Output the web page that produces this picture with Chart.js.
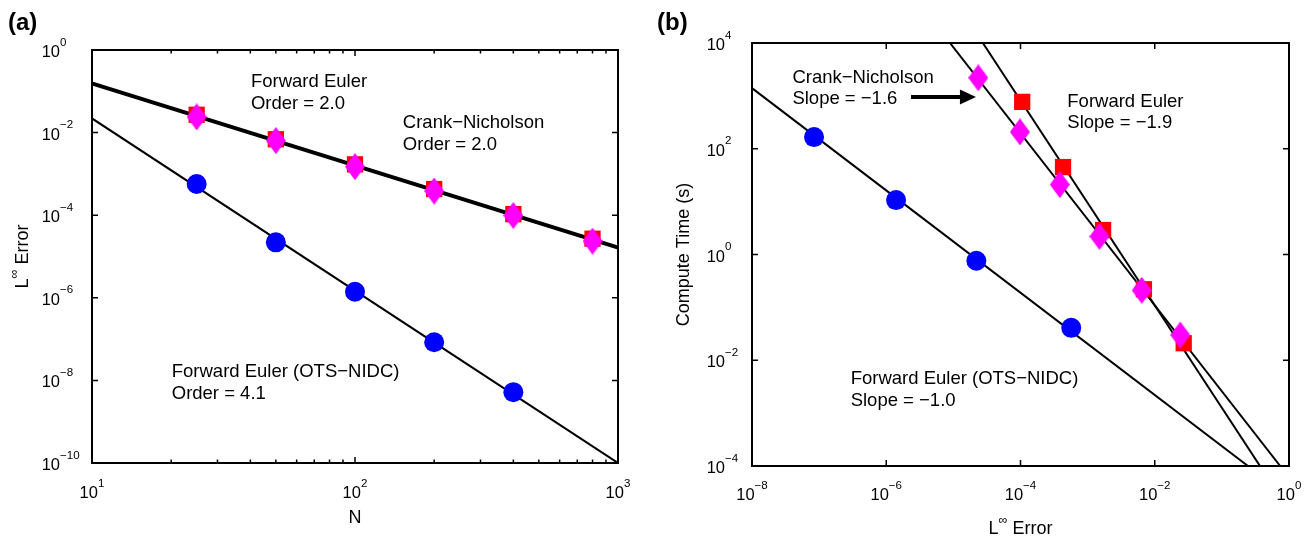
<!DOCTYPE html>
<html lang="en">
<head>
  <meta charset="UTF-8">
  <title>Convergence order and compute time</title>
  <style>
    html, body {
      margin: 0;
      padding: 0;
      background: #ffffff;
    }
    .panel {
      position: absolute;
      top: 0;
      width: 656px;
      height: 538px;
    }
    #panelA { left: 0; }
    #panelB { left: 656px; }
  </style>
</head>
<body>

  <div class="panel" id="panelA"><canvas id="chartA"></canvas></div>
  <div class="panel" id="panelB"><canvas id="chartB"></canvas></div>

  <script src="https://cdn.jsdelivr.net/npm/chart.js"></script>
  <script>
    // ---- (a) error vs N ----
    const nPts = [25, 50, 100, 200, 400, 800];
    const errFE = [0.027, 0.0069, 0.0017, 4.3e-4, 1.06e-4, 2.7e-5];
    const errCN = [0.024, 0.0064, 0.0015, 3.85e-4, 9.8e-5, 2.35e-5];
    const errOTS = [5.7e-4, 2.2e-5, 1.4e-6, 8.4e-8, 5.2e-9];   // N = 25..400

    // fitted lines, end points
    const fitN = [10, 1000];
    const fitFE_a = [0.162, 1.72e-5];
    const fitCN_a = [0.148, 1.57e-5];
    const fitOTS_a = [0.022, 1e-10];

    // ---- (b) compute time vs error ----
    const timeFE = [0.021, 0.22, 2.9, 45, 770];          // N = 25..400
    const timeCN = [0.030, 0.21, 2.2, 21, 208, 2200];    // N = 25..800
    const timeOTS = [0.041, 0.76, 10.7, 166];            // N = 25..200

    const fitErrOTS_b = [1e-8, 0.245];
    const fitTimeOTS_b = [1400, 1e-4];
    const fitErrFE_b = [2.75e-5, 0.37];
    const fitTimeFE_b = [1e4, 1e-4];
    const fitErrCN_b = [8.9e-6, 0.74];
    const fitTimeCN_b = [1e4, 1e-4];

    // tick exponents / minor tick values
    const xTicksA = [1, 2, 3];
    const yTicksA = [0, -2, -4, -6, -8, -10];
    const xMinorA = [20, 30, 40, 50, 60, 70, 80, 90, 200, 300, 400, 500, 600, 700, 800, 900];
    const xTicksB = [-8, -6, -4, -2, 0];
    const yTicksB = [-4, -2, 0, 2, 4];

    const SANS = '"Liberation Sans", Arial, Helvetica, sans-serif';

    function pts(xs, ys) {
      return ys.map((y, i) => ({ x: xs[i], y: y }));
    }

    // magenta diamond, taller than wide
    const diamond = document.createElement('canvas');
    diamond.width = 20;
    diamond.height = 27;
    const dctx = diamond.getContext('2d');
    dctx.fillStyle = '#ff00ff';
    dctx.beginPath();
    dctx.moveTo(10, 0);
    dctx.lineTo(20, 13.5);
    dctx.lineTo(10, 27);
    dctx.lineTo(0, 13.5);
    dctx.closePath();
    dctx.fill();

    function supStr(e) {
      return String(e).replace('-', '\u2212');
    }

    // text pieces: {t, sup}
    function richText(ctx, parts, x, y, align, size, raise) {
      const supSize = size * 0.7;
      const widths = parts.map(p => {
        ctx.font = (p.sup ? supSize : size) + 'px ' + SANS;
        return ctx.measureText(p.t).width;
      });
      const total = widths.reduce((a, b) => a + b, 0);
      let cx = align === 'center' ? x - total / 2 : (align === 'right' ? x - total : x);
      parts.forEach((p, i) => {
        ctx.font = (p.sup ? supSize : size) + 'px ' + SANS;
        ctx.fillText(p.t, cx, p.sup ? y - raise : y);
        cx += widths[i];
      });
    }

    const frame = {
      id: 'frame',
      afterDraw(chart, args, o) {
        const { ctx, chartArea: a } = chart;
        const xs = chart.scales.x, ys = chart.scales.y;
        ctx.save();
        ctx.fillStyle = '#000';
        ctx.strokeStyle = '#000';
        ctx.textAlign = 'left';
        ctx.textBaseline = 'alphabetic';

        // ticks (inward, mirrored)
        ctx.lineWidth = 1.5;
        ctx.beginPath();
        o.xTicks.forEach(e => {
          const px = xs.getPixelForValue(Math.pow(10, e));
          ctx.moveTo(px, a.bottom); ctx.lineTo(px, a.bottom - o.tickLen);
          ctx.moveTo(px, a.top); ctx.lineTo(px, a.top + o.tickLen);
        });
        (o.xMinor || []).forEach(v => {
          const px = xs.getPixelForValue(v);
          ctx.moveTo(px, a.bottom); ctx.lineTo(px, a.bottom - o.minorLen);
          ctx.moveTo(px, a.top); ctx.lineTo(px, a.top + o.minorLen);
        });
        o.yTicks.forEach(e => {
          const py = ys.getPixelForValue(Math.pow(10, e));
          ctx.moveTo(a.left, py); ctx.lineTo(a.left + o.tickLen, py);
          ctx.moveTo(a.right, py); ctx.lineTo(a.right - o.tickLen, py);
        });
        ctx.stroke();

        // box
        ctx.lineWidth = 2;
        ctx.strokeRect(a.left, a.top, a.right - a.left, a.bottom - a.top);

        // tick labels
        o.xTicks.forEach(e => {
          const px = xs.getPixelForValue(Math.pow(10, e));
          richText(ctx, [{ t: '10' }, { t: supStr(e), sup: true }], px, a.bottom + o.xLabelDrop, 'center', 16.5, 11.5);
        });
        o.yTicks.forEach(e => {
          const py = ys.getPixelForValue(Math.pow(10, e));
          ctx.font = '16.5px ' + SANS;
          const wb = ctx.measureText('10').width;
          richText(ctx, [{ t: '10' }, { t: supStr(e), sup: true }], a.left - o.yLabelGap - wb, py + 7, 'left', 16.5, 11.5);
        });

        // axis titles
        richText(ctx, o.xTitle, (a.left + a.right) / 2, o.xTitleY, 'center', 18, 10);
        ctx.save();
        ctx.translate(o.yTitleX, (a.top + a.bottom) / 2);
        ctx.rotate(-Math.PI / 2);
        richText(ctx, o.yTitle, 0, 0, 'center', 18, 10);
        ctx.restore();

        // panel letter
        ctx.font = 'bold 24px ' + SANS;
        ctx.fillText(o.letter, o.letterX, 30);

        // notes
        ctx.font = '18.5px ' + SANS;
        o.notes.forEach(n => {
          const px = xs.getPixelForValue(n.x);
          const py = ys.getPixelForValue(n.y);
          n.lines.forEach((s, i) => ctx.fillText(s, px, py + i * 21.7));
        });

        // arrows
        (o.arrows || []).forEach(ar => {
          const x0 = xs.getPixelForValue(ar.from[0]);
          const y0 = ys.getPixelForValue(ar.from[1]);
          const x1 = xs.getPixelForValue(ar.to[0]);
          ctx.lineWidth = 4;
          ctx.beginPath();
          ctx.moveTo(x0, y0);
          ctx.lineTo(x1 - 14, y0);
          ctx.stroke();
          ctx.beginPath();
          ctx.moveTo(x1, y0);
          ctx.lineTo(x1 - 16, y0 - 7.5);
          ctx.lineTo(x1 - 16, y0 + 7.5);
          ctx.closePath();
          ctx.fill();
        });
        ctx.restore();
      }
    };

    function lineSet(data, width) {
      return { data: data, showLine: true, borderColor: '#000000', borderWidth: width || 2,
               pointRadius: 0, order: 3 };
    }

    function baseOptions(padding, xmin, xmax, ymin, ymax, frameOpts) {
      return {
        responsive: true,
        maintainAspectRatio: false,
        animation: false,
        events: [],
        layout: { padding: padding },
        plugins: { legend: { display: false }, tooltip: { enabled: false }, frame: frameOpts },
        scales: {
          x: { type: 'logarithmic', min: xmin, max: xmax, display: false },
          y: { type: 'logarithmic', min: ymin, max: ymax, display: false }
        }
      };
    }

    new Chart(document.getElementById('chartA'), {
      type: 'scatter',
      plugins: [frame],
      data: {
        datasets: [
          lineSet(pts(fitN, fitFE_a), 2.5),
          lineSet(pts(fitN, fitCN_a), 2.5),
          lineSet(pts(fitN, fitOTS_a)),
          { data: pts(nPts, errFE), pointStyle: 'rect', pointRadius: 11.5,
            backgroundColor: '#ff0000', borderWidth: 0, order: 2 },
          { data: pts(nPts, errCN), pointStyle: diamond, pointRadius: 10,
            backgroundColor: '#ff00ff', borderWidth: 0, order: 1 },
          { data: pts(nPts, errOTS), pointStyle: 'circle', pointRadius: 10,
            backgroundColor: '#0000ff', borderWidth: 0, order: 1 }
        ]
      },
      options: baseOptions({ left: 92, right: 38, top: 50, bottom: 75 }, 10, 1000, 1e-10, 1, {
        letter: '(a)', letterX: 8,
        xTicks: xTicksA, yTicks: yTicksA, xMinor: xMinorA,
        tickLen: 6, minorLen: 3.5, xLabelDrop: 35, yLabelGap: 32,
        xTitle: [{ t: 'N' }], xTitleY: 523,
        yTitle: [{ t: 'L' }, { t: '\u221e', sup: true }, { t: ' Error' }], yTitleX: 28,
        notes: [
          { x: 40.2, y: 0.125, lines: ['Forward Euler', 'Order = 2.0'] },
          { x: 152, y: 0.0127, lines: ['Crank\u2212Nicholson', 'Order = 2.0'] },
          { x: 20.1, y: 1.19e-8, lines: ['Forward Euler (OTS\u2212NIDC)', 'Order = 4.1'] }
        ]
      })
    });

    new Chart(document.getElementById('chartB'), {
      type: 'scatter',
      plugins: [frame],
      data: {
        datasets: [
          lineSet(pts(fitErrFE_b, fitTimeFE_b)),
          lineSet(pts(fitErrCN_b, fitTimeCN_b)),
          lineSet(pts(fitErrOTS_b, fitTimeOTS_b)),
          { data: pts(errFE, timeFE), pointStyle: 'rect', pointRadius: 11.5,
            backgroundColor: '#ff0000', borderWidth: 0, order: 2 },
          { data: pts(errCN, timeCN), pointStyle: diamond, pointRadius: 10,
            backgroundColor: '#ff00ff', borderWidth: 0, order: 1 },
          { data: pts(errOTS, timeOTS), pointStyle: 'circle', pointRadius: 10,
            backgroundColor: '#0000ff', borderWidth: 0, order: 1 }
        ]
      },
      options: baseOptions({ left: 96, right: 23, top: 43, bottom: 72 }, 1e-8, 1, 1e-4, 1e4, {
        letter: '(b)', letterX: 1,
        xTicks: xTicksB, yTicks: yTicksB,
        tickLen: 6, minorLen: 0, xLabelDrop: 34, yLabelGap: 27,
        xTitle: [{ t: 'L' }, { t: '\u221e', sup: true }, { t: ' Error' }], xTitleY: 534,
        yTitle: [{ t: 'Compute Time (s)' }], yTitleX: 33,
        notes: [
          { x: 4.0e-8, y: 1775, lines: ['Crank\u2212Nicholson', 'Slope = \u22121.6'] },
          { x: 4.98e-4, y: 624, lines: ['Forward Euler', 'Slope = \u22121.9'] },
          { x: 2.95e-7, y: 3.56e-3, lines: ['Forward Euler (OTS\u2212NIDC)', 'Slope = \u22121.0'] }
        ],
        arrows: [{ from: [2.34e-6, 953], to: [2.17e-5, 953] }]
      })
    });
  </script>

</body>
</html>
